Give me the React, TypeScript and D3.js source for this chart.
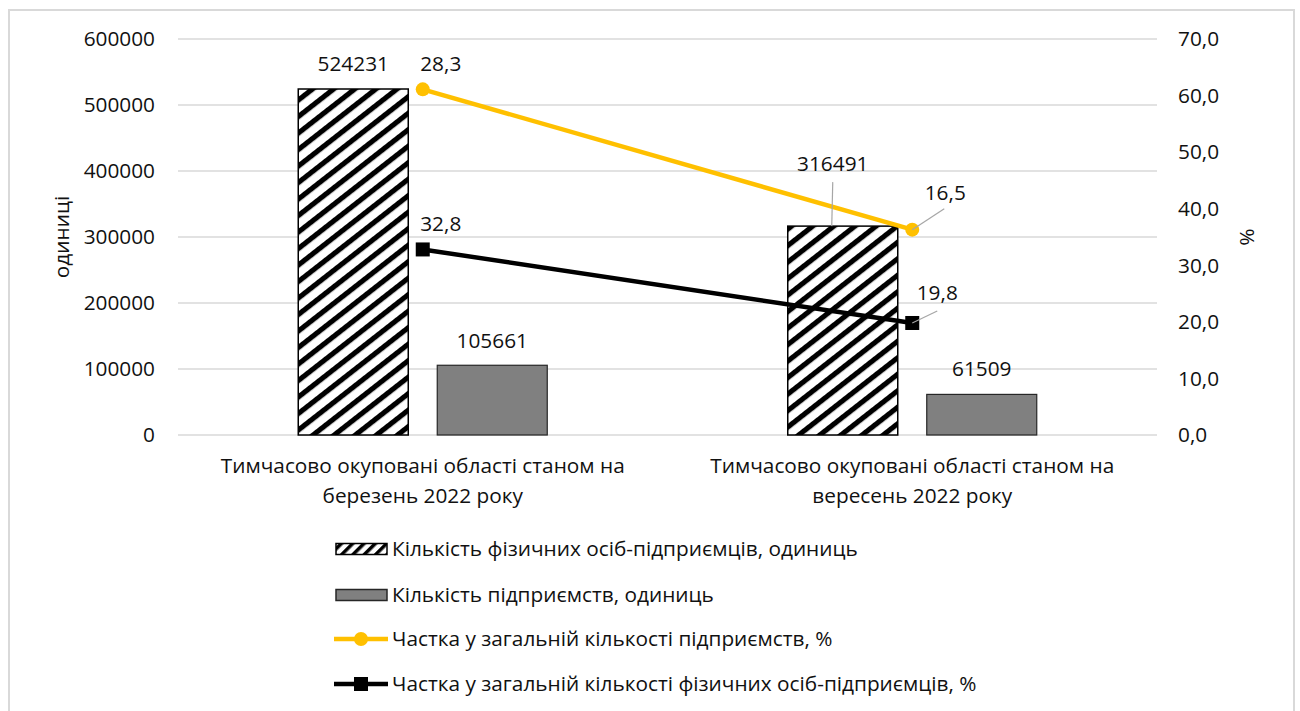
import React from "react";
import * as d3 from "d3";

const categories = [
  ["Тимчасово окуповані області станом на", "березень 2022 року"],
  ["Тимчасово окуповані області станом на", "вересень 2022 року"],
];
const fopCount = [524231, 316491];
const enterpriseCount = [105661, 61509];
const shareEnterprises = [28.3, 16.5];
const shareFop = [32.8, 19.8];
const leftTicks = [0, 100000, 200000, 300000, 400000, 500000, 600000];
const rightTicks = [0, 10, 20, 30, 40, 50, 60, 70];
const legendLabels = [
  "Кількість фізичних осіб-підприємців, одиниць",
  "Кількість підприємств, одиниць",
  "Частка у загальній кількості підприємств, %",
  "Частка у загальній кількості фізичних осіб-підприємців, %",
];

const FONT = "'Open Sans', 'Noto Sans', sans-serif";
const YELLOW = "#FFC000";
const GRID = "#d9d9d9";
const TXT = "#111";

export default function App() {
  const W = 1300, H = 711;
  const plotL = 178, plotR = 1157, plotT = 39, plotB = 435;

  const x0 = d3.scaleBand<number>().domain([0, 1]).range([plotL, plotR]).padding(0);
  const yL = d3.scaleLinear().domain([0, 600000]).range([plotB, plotT]);
  const yR = d3.scaleLinear().domain([0, 70]).range([plotB, plotT]);

  const barW = 110, gap = 29;
  const center = (i: number) => (x0(i) as number) + x0.bandwidth() / 2;

  // stacked lines (black first, yellow stacked on top)
  const stackData = [0, 1].map((i) => ({ fop: shareFop[i], ent: shareEnterprises[i] }));
  const stacked = d3.stack<any>().keys(["fop", "ent"])(stackData);
  const blackVals = stacked[0].map((d) => d[1]);
  const yellowVals = stacked[1].map((d) => d[1]);

  const line = d3
    .line<number>()
    .x((_, i) => center(i))
    .y((v) => yR(v));

  const fopLabelPos = [
    { dx: 0, dy: -25 },
    { dx: -10, dy: -62, leader: true },
  ];
  const entLabelPos = [
    { dx: 0, dy: -25 },
    { dx: 0, dy: -26 },
  ];
  const yellowLabelPos = [
    { dx: 18, dy: -26 },
    { dx: 33, dy: -37, leader: true },
  ];
  const blackLabelPos = [
    { dx: 18, dy: -26 },
    { dx: 25, dy: -30, leader: true },
  ];

  const fs = 20.8;
  const fmt1 = (v: number) => d3.format(".1f")(v).replace(".", ",");

  return (
    <svg
      width={W}
      height={H}
      style={{ position: "absolute", left: 0, top: 0, background: "#fff" }}
      fontFamily={FONT}
    >
      <defs>
        <pattern
          id="hatch"
          patternUnits="userSpaceOnUse"
          width={20}
          height={13}
          patternTransform="rotate(-38)"
        >
          <rect width={20} height={13} fill="#fff" />
          <rect y={0} width={20} height={5.2} fill="#000" />
        </pattern>
        <pattern
          id="hatchSmall"
          patternUnits="userSpaceOnUse"
          width={20}
          height={8}
          patternTransform="rotate(-45)"
        >
          <rect width={20} height={8} fill="#fff" />
          <rect y={0} width={20} height={3.5} fill="#000" />
        </pattern>
      </defs>
      <rect x={0} y={0} width={W} height={H} fill="#fff" />
      <rect x={9} y={10} width={1285} height={720} fill="none" stroke={GRID} strokeWidth={2} />

      {leftTicks.map((t) => (
        <line key={t} x1={plotL} x2={plotR} y1={yL(t)} y2={yL(t)} stroke={GRID} strokeWidth={1.5} />
      ))}

      {leftTicks.map((t) => (
        <text key={t} x={155} y={yL(t)} dy="0.35em" textAnchor="end" fontSize={fs} fill={TXT}>
          {t}
        </text>
      ))}
      {rightTicks.map((t) => (
        <text key={t} x={1178} y={yR(t)} dy="0.35em" textAnchor="start" fontSize={fs} fill={TXT}>
          {fmt1(t)}
        </text>
      ))}
      <text transform={`translate(62,237) rotate(-90)`} textAnchor="middle" dy="0.35em" fontSize={fs} fill={TXT}>
        одиниці
      </text>
      <text transform={`translate(1247,237) rotate(90)`} textAnchor="middle" dy="0.35em" fontSize={fs} fill={TXT}>
        %
      </text>

      {fopCount.map((v, i) => {
        const bx = center(i) - gap / 2 - barW;
        return (
          <rect key={"f" + i} x={bx} y={yL(v)} width={barW} height={plotB - yL(v)}
            fill="url(#hatch)" stroke="#000" strokeWidth={1.5} />
        );
      })}
      {enterpriseCount.map((v, i) => {
        const bx = center(i) + gap / 2;
        return (
          <rect key={"e" + i} x={bx} y={yL(v)} width={barW} height={plotB - yL(v)}
            fill="#808080" stroke="#262626" strokeWidth={1.2} />
        );
      })}

      <path d={line(yellowVals) || ""} fill="none" stroke={YELLOW} strokeWidth={4.5} />
      <path d={line(blackVals) || ""} fill="none" stroke="#000" strokeWidth={4.5} />
      {yellowVals.map((v, i) => (
        <circle key={"yc" + i} cx={center(i)} cy={yR(v)} r={7} fill={YELLOW} />
      ))}
      {blackVals.map((v, i) => (
        <rect key={"bs" + i} x={center(i) - 7} y={yR(v) - 7} width={14} height={14} fill="#000" />
      ))}

      {fopCount.map((v, i) => {
        const cx = center(i) - gap / 2 - barW / 2;
        const p = fopLabelPos[i];
        const ly = yL(v) + p.dy;
        return (
          <g key={"fl" + i}>
            {p.leader && (
              <line x1={cx + p.dx} y1={ly + 18} x2={cx + p.dx - 1} y2={yL(v)} stroke="#a6a6a6" strokeWidth={1.2} />
            )}
            <text x={cx + p.dx} y={ly} dy="0.35em" textAnchor="middle" fontSize={fs} fill={TXT}>
              {v}
            </text>
          </g>
        );
      })}
      {enterpriseCount.map((v, i) => {
        const cx = center(i) + gap / 2 + barW / 2;
        const p = entLabelPos[i];
        return (
          <text key={"el" + i} x={cx + p.dx} y={yL(v) + p.dy} dy="0.35em" textAnchor="middle" fontSize={fs} fill={TXT}>
            {v}
          </text>
        );
      })}
      {yellowVals.map((v, i) => {
        const cx = center(i), cy = yR(v);
        const p = yellowLabelPos[i];
        return (
          <g key={"yl" + i}>
            {p.leader && (
              <line x1={cx + p.dx - 1} y1={cy + p.dy + 16} x2={cx} y2={cy} stroke="#a6a6a6" strokeWidth={1.2} />
            )}
            <text x={cx + p.dx} y={cy + p.dy} dy="0.35em" textAnchor="middle" fontSize={fs} fill={TXT}>
              {fmt1(shareEnterprises[i])}
            </text>
          </g>
        );
      })}
      {blackVals.map((v, i) => {
        const cx = center(i), cy = yR(v);
        const p = blackLabelPos[i];
        return (
          <g key={"bl" + i}>
            {p.leader && (
              <line x1={cx + p.dx} y1={cy + p.dy + 18} x2={cx} y2={cy} stroke="#a6a6a6" strokeWidth={1.2} />
            )}
            <text x={cx + p.dx} y={cy + p.dy} dy="0.35em" textAnchor="middle" fontSize={fs} fill={TXT}>
              {fmt1(shareFop[i])}
            </text>
          </g>
        );
      })}

      {categories.map((c, i) => (
        <text key={"c" + i} x={center(i)} textAnchor="middle" fontSize={fs} fill={TXT}>
          <tspan x={center(i)} y={473}>{c[0]}</tspan>
          <tspan x={center(i)} y={503}>{c[1]}</tspan>
        </text>
      ))}

      {legendLabels.map((lab, i) => {
        const ly = [549, 595, 639, 684][i];
        let sym: React.ReactNode = null;
        if (i === 0)
          sym = <rect x={336} y={ly - 5.5} width={51} height={11} fill="url(#hatchSmall)" stroke="#000" strokeWidth={1.5} />;
        else if (i === 1)
          sym = <rect x={336} y={ly - 5.5} width={51} height={11} fill="#808080" stroke="#262626" strokeWidth={1.5} />;
        else if (i === 2)
          sym = (
            <g>
              <line x1={334} x2={388} y1={ly} y2={ly} stroke={YELLOW} strokeWidth={4.5} />
              <circle cx={361} cy={ly} r={7} fill={YELLOW} />
            </g>
          );
        else
          sym = (
            <g>
              <line x1={334} x2={388} y1={ly} y2={ly} stroke="#000" strokeWidth={4.5} />
              <rect x={354} y={ly - 7} width={14} height={14} fill="#000" />
            </g>
          );
        return (
          <g key={"lg" + i}>
            {sym}
            <text x={392} y={ly} dy="0.35em" fontSize={fs} fill={TXT}>
              {lab}
            </text>
          </g>
        );
      })}
    </svg>
  );
}
